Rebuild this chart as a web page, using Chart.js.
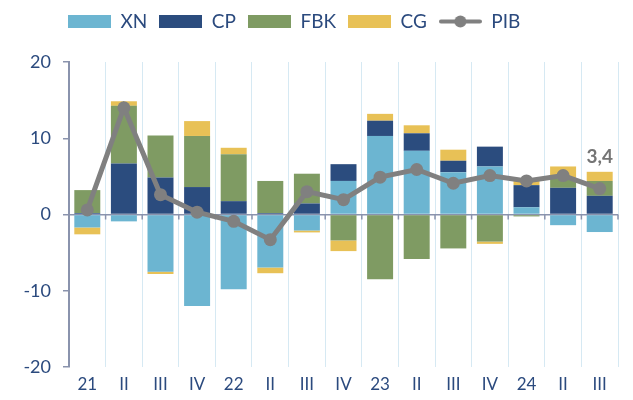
<!DOCTYPE html>
<html>
<head>
<meta charset="utf-8">
<script src="https://cdn.jsdelivr.net/npm/chart.js@4"></script>
<style>
  html, body { margin: 0; padding: 0; background: #fff; }
  #wrap { width: 633px; height: 400px; }
</style>
</head>
<body>
<div id="wrap"><canvas id="pibChart"></canvas></div>
<script>
// trimestres
const labels = ['21', 'II', 'III', 'IV', '22', 'II', 'III', 'IV', '23', 'II', 'III', 'IV', '24', 'II', 'III'];

// contribuciones (pp)
const xn  = [-1.7, -0.9, -7.5, -12.0, -9.8, -6.95, -2.1, 4.4, 10.3, 8.35, 5.55, 6.3, 0.95, -1.4, -2.3];
const cp  = [0.2, 6.7, 4.85, 3.6, 1.75, 0.2, 1.45, 2.2, 2.0, 2.3, 1.5, 2.6, 2.9, 3.5, 2.45];
const fbk = [3.0, 7.55, 5.5, 6.7, 6.15, 4.2, 3.9, -3.4, -8.5, -5.85, -4.45, -3.55, -0.25, 1.2, 1.95];
const cg  = [-0.9, 0.6, -0.3, 1.95, 0.85, -0.75, -0.25, -1.4, 0.9, 1.05, 1.45, -0.3, 0.6, 1.6, 1.2];
const pib = [0.6, 14.0, 2.6, 0.3, -0.9, -3.3, 3.0, 1.95, 4.9, 5.9, 4.1, 5.1, 4.4, 5.1, 3.4];

const yTicks = [20, 10, 0, -10, -20];

const textBlue = '#2b4a7e';
const axisGrey = '#8a93ad';
const FONT = 'Lato, "DejaVu Sans", sans-serif';

// iconos de la leyenda
function boxIcon(color) {
    const c = document.createElement('canvas');
    c.width = 43; c.height = 13;
    const g = c.getContext('2d');
    g.fillStyle = color;
    g.fillRect(0, 0, 43, 13);
    return c;
}
function lineIcon(color) {
    const c = document.createElement('canvas');
    c.width = 43; c.height = 13;
    const g = c.getContext('2d');
    g.strokeStyle = color;
    g.lineWidth = 4;
    g.lineCap = 'round';
    g.beginPath(); g.moveTo(2, 6.5); g.lineTo(41, 6.5); g.stroke();
    g.fillStyle = color;
    g.beginPath(); g.arc(21.5, 6.5, 6, 0, Math.PI * 2); g.fill();
    return c;
}

const colors = { xn: '#6cb5d1', cp: '#2b4c7e', fbk: '#7f9b63', cg: '#e8c156', pib: '#808080' };
const icons = [boxIcon(colors.xn), boxIcon(colors.cp), boxIcon(colors.fbk), boxIcon(colors.cg), lineIcon(colors.pib)];

// la leyenda empieza sobre el eje y
const legendShift = {
    id: 'legendShift',
    afterLayout(chart) {
        chart.legend.left = 56;
    }
};

// marcas en la linea del cero
const zeroTicks = {
    id: 'zeroTicks',
    beforeDatasetsDraw(chart) {
        const { ctx, scales: { x, y } } = chart;
        const y0 = y.getPixelForValue(0);
        const half = (x.getPixelForValue(1) - x.getPixelForValue(0)) / 2;
        ctx.save();
        ctx.strokeStyle = axisGrey;
        ctx.lineWidth = 1.5;
        for (let i = 0; i <= labels.length; i++) {
            const px = x.getPixelForValue(0) - half + i * half * 2;
            ctx.beginPath();
            ctx.moveTo(px, y0);
            ctx.lineTo(px, y0 + 5);
            ctx.stroke();
        }
        ctx.restore();
    }
};

// etiqueta del ultimo dato
const lastLabel = {
    id: 'lastLabel',
    afterDatasetsDraw(chart) {
        const meta = chart.getDatasetMeta(4);
        const pt = meta.data[meta.data.length - 1];
        const { ctx } = chart;
        ctx.save();
        ctx.font = 'bold 19px ' + FONT;
        ctx.fillStyle = '#757575';
        ctx.textAlign = 'center';
        ctx.textBaseline = 'middle';
        ctx.fillText(String(pib[pib.length - 1]).replace('.', ','), pt.x, pt.y - 32);
        ctx.restore();
    }
};

const barBase = { type: 'bar', order: 1, xAxisID: 'x', yAxisID: 'y', barPercentage: 0.71, categoryPercentage: 1, borderWidth: 0 };

new Chart(document.getElementById('pibChart'), {
    data: {
        labels: labels,
        datasets: [
            { ...barBase, label: 'XN', data: xn, backgroundColor: colors.xn },
            { ...barBase, label: 'CP', data: cp, backgroundColor: colors.cp },
            { ...barBase, label: 'FBK', data: fbk, backgroundColor: colors.fbk },
            { ...barBase, label: 'CG', data: cg, backgroundColor: colors.cg },
            {
                type: 'line', label: 'PIB', data: pib, order: 0, stack: 'pib',
                xAxisID: 'x', yAxisID: 'y',
                borderColor: colors.pib, backgroundColor: colors.pib,
                borderWidth: 5, pointRadius: 6.5, pointHoverRadius: 6.5,
                pointBorderWidth: 0, pointBackgroundColor: colors.pib, tension: 0
            }
        ]
    },
    options: {
        responsive: true,
        maintainAspectRatio: false,
        animation: false,
        layout: { padding: { left: 0, right: 15, top: 0, bottom: 0 } },
        plugins: {
            tooltip: { enabled: false },
            legend: {
                position: 'top',
                align: 'start',
                labels: {
                    usePointStyle: true,
                    pointStyleWidth: 43,
                    boxHeight: 13,
                    padding: 12,
                    color: textBlue,
                    font: { family: FONT, size: 19, lineHeight: 1 },
                    sort: (a, b) => a.datasetIndex - b.datasetIndex,
                    generateLabels(chart) {
                        const items = Chart.defaults.plugins.legend.labels.generateLabels(chart);
                        items.forEach(it => { it.pointStyle = icons[it.datasetIndex]; });
                        return items;
                    }
                }
            }
        },
        scales: {
            x: {
                stacked: true,
                offset: true,
                border: { display: false },
                grid: { offset: true, color: '#d6e9f3', lineWidth: 1, drawTicks: false },
                ticks: { color: textBlue, font: { family: FONT, size: 17 }, padding: 7 },
                afterFit(scale) { scale.height = 33; }
            },
            // eje vacio arriba: solo deja aire entre la leyenda y el grafico
            xTop: {
                type: 'category',
                position: 'top',
                grid: { display: false },
                border: { display: false },
                ticks: { display: false },
                afterFit(scale) { scale.height = 21; }
            },
            y: {
                stacked: true,
                min: -20,
                max: 20,
                border: { display: true, color: axisGrey, width: 2 },
                grid: {
                    color: c => (c.tick && c.tick.value === 0 ? axisGrey : 'transparent'),
                    lineWidth: 1.5,
                    tickColor: axisGrey,
                    tickLength: 6,
                    drawTicks: true
                },
                afterBuildTicks(scale) { scale.ticks = yTicks.map(v => ({ value: v })); },
                ticks: { color: textBlue, font: { family: FONT, size: 18 }, padding: 12 },
                afterFit(scale) { scale.width = 69; }
            }
        }
    },
    plugins: [legendShift, zeroTicks, lastLabel]
});
</script>
</body>
</html>
